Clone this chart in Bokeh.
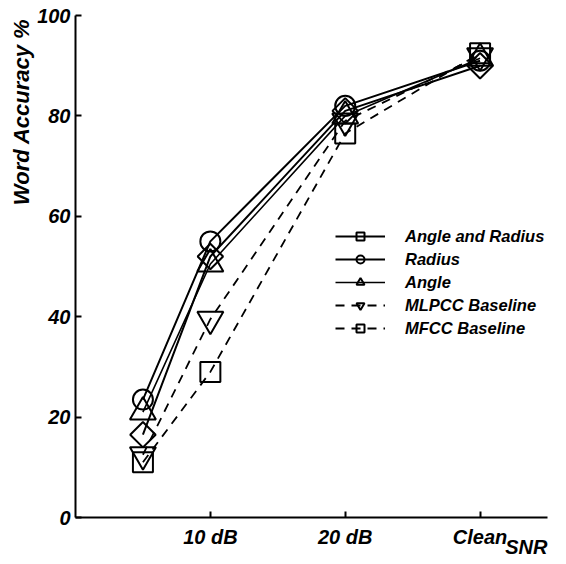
import math
from bokeh.plotting import figure
from bokeh.models import Range1d, FixedTicker, Legend, LegendItem, Title
from bokeh.embed import file_html
from bokeh.resources import INLINE

# ---- data ----
snr_pos = [0.5, 1, 2, 3]
snr_ticks = [1, 2, 3]
snr_tick_labels = ["10 dB", "20 dB", "Clean"]
y_ticks = [0, 20, 40, 60, 80, 100]

series_names = ["Angle and Radius", "Radius", "Angle", "MLPCC Baseline", "MFCC Baseline"]
angle_radius = [16.5, 52, 81, 90]
radius = [23.5, 55, 82, 91]
angle = [21, 50.5, 80, 91.5]
mlpcc = [12.5, 39.5, 79, 92]
mfcc = [11, 29, 76.5, 92.5]

FONT = "Liberation Sans"

p = figure(width=558, height=556, output_backend="svg", toolbar_location=None,
           x_range=Range1d(0, 3.5), y_range=Range1d(0, 100),
           min_border_left=75, min_border_right=11, min_border_top=15, min_border_bottom=39)
p.grid.visible = False
p.outline_line_color = None

for ax in (p.xaxis[0], p.yaxis[0]):
    ax.axis_line_width = 2
    ax.axis_line_color = "black"
    ax.major_tick_in = 6
    ax.major_tick_out = 0
    ax.major_tick_line_width = 2
    ax.minor_tick_line_color = None
    ax.major_label_text_font = FONT
    ax.major_label_text_font_style = "bold italic"
    ax.major_label_text_font_size = "20px"
    ax.major_label_text_color = "black"

p.xaxis.ticker = FixedTicker(ticks=snr_ticks)
p.xaxis.major_label_overrides = {t: l for t, l in zip(snr_ticks, snr_tick_labels)}
p.xaxis.major_label_standoff = 8
p.yaxis.ticker = FixedTicker(ticks=y_ticks)
p.yaxis.major_label_standoff = 5

specs = [
    (angle_radius, "square", 18, math.pi / 4, None, 2),
    (radius, "circle", 20, 0, None, 2),
    (angle, "triangle", 26, 0, None, 1.6),
    (mlpcc, "inverted_triangle", 26, 0, "9 7", 1.8),
    (mfcc, "square", 20, 0, "9 7", 1.8),
]

items = []
for name, (vals, marker, size, ang, dash, lw) in zip(series_names, specs):
    kw = {}
    if dash:
        kw["line_dash"] = dash
    ln = p.line(snr_pos, vals, line_color="black", line_width=lw, **kw)
    sc = p.scatter(snr_pos, vals, marker=marker, size=size, angle=ang,
                   fill_alpha=0, line_color="black", line_width=2)
    items.append(LegendItem(label=name, renderers=[ln, sc]))

legend = Legend(items=items, location=(260, 179), padding=0, margin=0, spacing=3,
                glyph_width=50, glyph_height=20, label_height=20, label_standoff=20,
                border_line_alpha=0, background_fill_alpha=0,
                label_text_font=FONT, label_text_font_style="bold italic",
                label_text_font_size="16.5px", label_text_color="black")
p.add_layout(legend)

p.add_layout(Title(text="Word Accuracy %", align="right", standoff=1, offset=3,
                   text_font=FONT, text_font_style="bold italic",
                   text_font_size="22px", text_color="black"), "left")
p.add_layout(Title(text="SNR", align="right", vertical_align="top", standoff=-30,
                   text_font=FONT, text_font_style="bold italic",
                   text_font_size="20px", text_color="black"), "below")

open("out.html", "w").write(file_html(p, INLINE))
